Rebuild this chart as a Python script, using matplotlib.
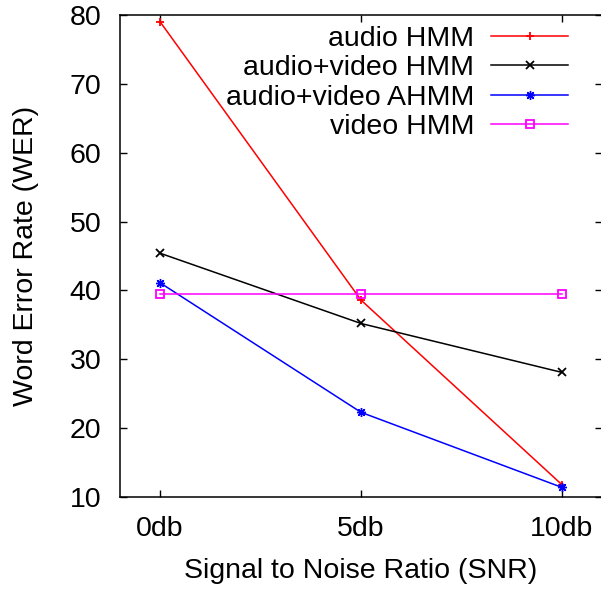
import matplotlib
matplotlib.use("Agg")
import matplotlib.pyplot as plt

# data
snr_labels = ["0db", "5db", "10db"]
audio_hmm = [79.0, 38.6, 11.8]
av_hmm = [45.4, 35.2, 28.1]
av_ahmm = [41.1, 22.3, 11.4]
video_hmm = [39.5, 39.5, 39.5]

plt.rcParams["font.family"] = ["Liberation Sans", "DejaVu Sans"]
fs = 20.5

fig = plt.figure(figsize=(6.01, 5.89), dpi=100)
# right edge of the axes sits just outside the image, like the original
ax = fig.add_axes([120 / 601, 1 - 497 / 589, 482 / 601, 482 / 589])

xs = list(range(len(snr_labels)))
lw = 1.1
ax.plot(xs, audio_hmm, color="#ff0000", lw=lw, marker="+", ms=6, mew=1.3,
        label="audio HMM")
ax.plot(xs, av_hmm, color="black", lw=lw, marker="x", ms=5.5, mew=1.3,
        label="audio+video HMM")
ax.plot(xs, av_ahmm, color="#0000ff", lw=lw, marker=(8, 2, 0), ms=6.5, mew=1.0,
        label="audio+video AHMM")
ax.plot(xs, video_hmm, color="#ff00ff", lw=lw, marker="s", ms=6, mew=1.3,
        fillstyle="none", label="video HMM")

ax.set_xlim(-0.2, 2.2)
ax.set_ylim(10, 80)
ax.set_xticks(xs)
ax.set_xticklabels(snr_labels)
ax.set_yticks(range(10, 81, 10))
ax.tick_params(direction="in", length=5, width=1, top=True, right=True,
               labelsize=fs, pad=13.5)
for sp in ax.spines.values():
    sp.set_linewidth(1.1)

ax.set_xlabel("Signal to Noise Ratio (SNR)", fontsize=fs, labelpad=12)
ax.set_ylabel("Word Error Rate (WER)", fontsize=fs, labelpad=22)

ax.legend(loc="upper right", bbox_to_anchor=(568 / 601, 1 - 26 / 589),
          bbox_transform=fig.transFigure, frameon=False, fontsize=fs,
          markerfirst=False, handlelength=2.7, handletextpad=0.6,
          labelspacing=0.12, borderpad=0, borderaxespad=0)

fig.savefig("out.png", dpi=100)
